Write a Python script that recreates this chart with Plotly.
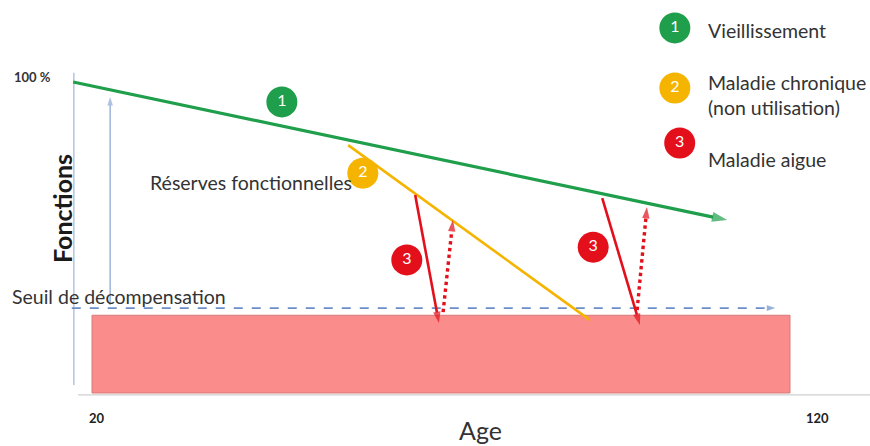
import plotly.graph_objects as go

W, H = 870, 446

# ---- data (x = age in years, y = level of function in %) ----
aging_age = [17.3, 111.0]
aging_fn = [100, 55.6]
chronic_age = [56.7, 91.3]
chronic_fn = [79.7, 23.5]
acute1_drop_age = [66.3, 69.7]
acute1_drop_fn = [63.7, 22.5]
acute1_rec_age = [70.3, 71.7]
acute1_rec_fn = [26.0, 55.6]
acute2_drop_age = [93.1, 98.5]
acute2_drop_fn = [62.7, 21.9]
acute2_rec_age = [98.1, 99.5]
acute2_rec_fn = [26.7, 59.8]
threshold_age = [17.1, 117.9]
threshold_fn = [27.3, 27.3]
reserve_age = [22.6, 22.6]
reserve_fn = [28.3, 95.2]
zone_age = [20, 120]
zone_fn = [0, 25]
yaxis_age = [17.4, 17.4]
yaxis_fn = [2.6, 103]
xaxis_age = [18.0, 131.5]
xaxis_fn = [-0.6, -0.6]
badge_age = [47.2, 58.8, 65.1, 91.8]
badge_fn = [93.6, 70.7, 42.8, 46.9]
badge_labels = ["1", "2", "3", "3"]
legend_age = [103.5, 103.5, 104.2]
legend_fn = [117.4, 98.1, 80.4]
legend_badges = ["1", "2", "3"]
legend_labels = ["Vieillissement", "Maladie chronique<br>(non utilisation)", "Maladie aigue"]
tick_labels = ["20", "120"]

GREEN = "#1f9e4b"
YELLOW = "#f5b400"
RED = "#e3101b"
BADGE_COLORS = [GREEN, YELLOW, RED, RED]
LEGEND_COLORS = [GREEN, YELLOW, RED]
FONT = "Lato"
TXT = 19.5

fig = go.Figure()


def arrow_line(xs, ys, color, width, dash="solid", head=11):
    fig.add_trace(go.Scatter(
        x=xs, y=ys, mode="lines+markers",
        line=dict(color=color, width=width, dash=dash),
        marker=dict(symbol="arrow", size=[0, head], color=color,
                    angleref="previous", line=dict(width=0)),
        hoverinfo="skip", showlegend=False))


# axis lines
fig.add_trace(go.Scatter(x=yaxis_age, y=yaxis_fn, mode="lines",
                         line=dict(color="#b4c4dc", width=1.5), showlegend=False, hoverinfo="skip"))
fig.add_trace(go.Scatter(x=xaxis_age, y=xaxis_fn, mode="lines",
                         line=dict(color="#cfcfcf", width=1.2), showlegend=False, hoverinfo="skip"))

# decompensation zone
fig.add_shape(type="rect", xref="x", yref="y",
              x0=zone_age[0], x1=zone_age[1], y0=zone_fn[0], y1=zone_fn[1],
              fillcolor="#fa8c8c", line=dict(color="#d77a78", width=1), layer="below")

# functional reserve arrow
arrow_line(reserve_age, reserve_fn, "#8ea8d4", 1.3, head=9)
# threshold dashed arrow
arrow_line(threshold_age, threshold_fn, "#6b8ec8", 1.6, dash="dash", head=9)
# aging line
arrow_line(aging_age, aging_fn, GREEN, 3.2, head=16)
# chronic disease line
fig.add_trace(go.Scatter(x=chronic_age, y=chronic_fn, mode="lines",
                         line=dict(color=YELLOW, width=2.6), showlegend=False, hoverinfo="skip"))
# acute disease arrows
arrow_line(acute1_drop_age, acute1_drop_fn, RED, 2.6, head=12)
arrow_line(acute1_rec_age, acute1_rec_fn, RED, 3.4, dash="dot", head=12)
arrow_line(acute2_drop_age, acute2_drop_fn, RED, 2.6, head=12)
arrow_line(acute2_rec_age, acute2_rec_fn, RED, 3.4, dash="dot", head=12)

# badges
fig.add_trace(go.Scatter(x=badge_age, y=badge_fn, mode="markers+text",
                         marker=dict(size=31, color=BADGE_COLORS, line=dict(width=0)),
                         text=badge_labels, textfont=dict(color="white", size=16, family=FONT),
                         textposition="middle center", showlegend=False, hoverinfo="skip"))
fig.add_trace(go.Scatter(x=legend_age, y=legend_fn, mode="markers+text",
                         marker=dict(size=31, color=LEGEND_COLORS, line=dict(width=0)),
                         text=legend_badges, textfont=dict(color="white", size=16, family=FONT),
                         textposition="middle center", showlegend=False, hoverinfo="skip"))


def px(xp, yp):
    return xp / W, 1 - yp / H


def label(text, xp, yp, size, anchor="left", color="#333333", angle=0, bold=False):
    x, y = px(xp, yp)
    if bold:
        text = "<b>" + text + "</b>"
    fig.add_annotation(x=x, y=y, xref="paper", yref="paper", text=text, showarrow=False,
                       xanchor=anchor, yanchor="middle", textangle=angle, align="left",
                       font=dict(size=size, color=color, family=FONT))


label("100 %", 12, 77, 13, bold=True)
label("Fonctions", 62, 209, 25, anchor="center", color="#1a1a1a", angle=-90, bold=True)
label("Réserves fonctionnelles", 148, 183, TXT)
label("Seuil de décompensation", 10, 296, TXT)
label(tick_labels[0], 97, 418, 13, anchor="center", color="#222222", bold=True)
label(tick_labels[1], 817, 418, 13, anchor="center", color="#222222", bold=True)
label("Age", 481, 430, 25, anchor="center", color="#333333")
label(legend_labels[0], 706, 31, TXT)
x, y = px(706, 95)
fig.add_annotation(x=x, y=y, xref="paper", yref="paper", text=legend_labels[1], showarrow=False,
                   xanchor="left", yanchor="middle", align="left",
                   font=dict(size=TXT, color="#333333", family=FONT))
label(legend_labels[2], 706, 159, TXT)

fig.update_layout(
    width=W, height=H, autosize=False,
    margin=dict(l=0, r=0, t=0, b=0),
    paper_bgcolor="white", plot_bgcolor="white",
    xaxis=dict(range=[6.82, 131.46], visible=False, fixedrange=True),
    yaxis=dict(range=[-17.04, 126.37], visible=False, fixedrange=True),
    showlegend=False,
)

fig.write_html("out.html", config={"displayModeBar": False},
               post_script="document.body.style.margin='0px';")
